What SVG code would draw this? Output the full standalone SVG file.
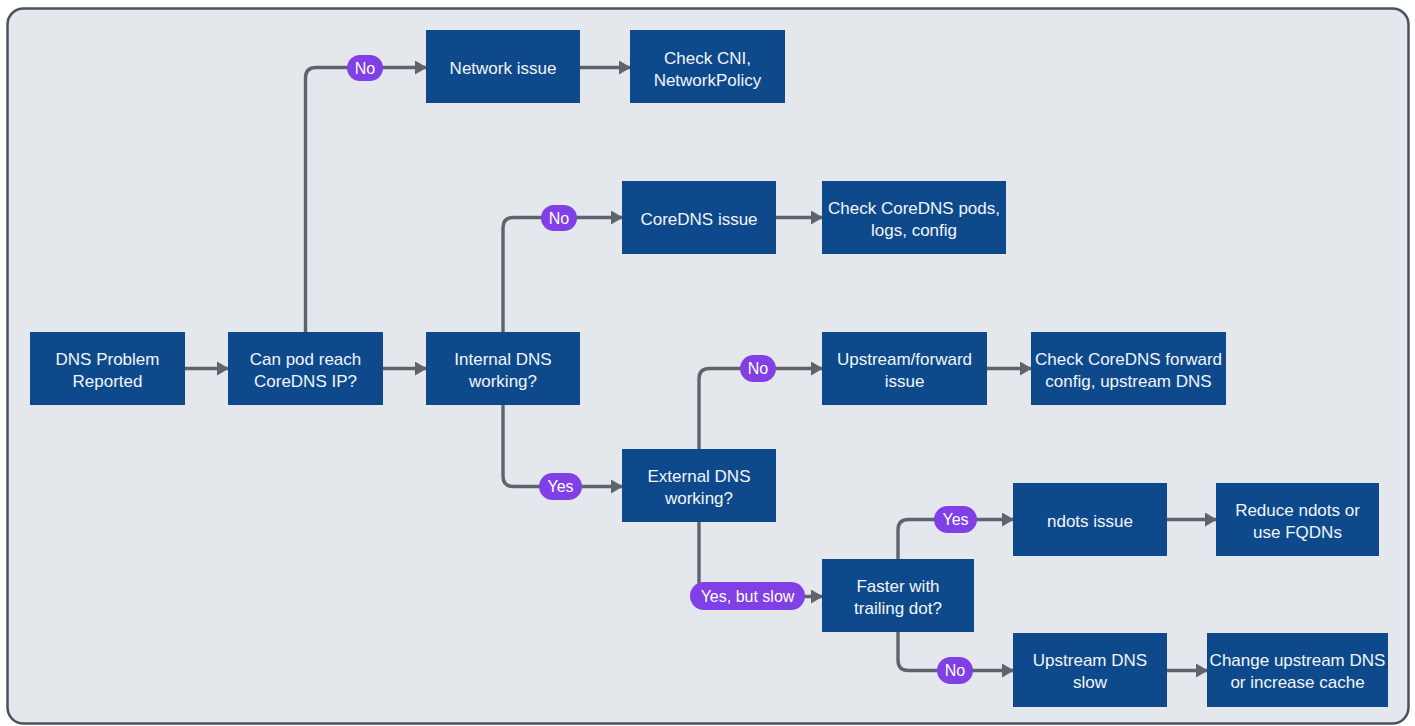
<svg xmlns="http://www.w3.org/2000/svg" width="1415" height="726" viewBox="0 0 1415 726">
  <defs>
    <marker id="arr" viewBox="0 0 12 14" markerWidth="12" markerHeight="14" refX="11" refY="7" orient="auto" markerUnits="userSpaceOnUse">
      <path d="M0,0 L12,7 L0,14 z" fill="#5f646c"/>
    </marker>
    <style>
      .node rect { fill: #0e4a8b; }
      .node text { fill: #f2f5f9; font-family: "Liberation Sans", Arial, sans-serif; font-size: 17px; text-anchor: middle; }
      .conn path { fill: none; stroke: #5f646c; stroke-width: 3.4; }
      .pill rect { fill: #8040e6; }
      .pill text { fill: #ffffff; font-family: "Liberation Sans", Arial, sans-serif; font-size: 16px; text-anchor: middle; }
    </style>
  </defs>
  <rect x="0" y="0" width="1415" height="726" fill="#ffffff"/>
  <rect x="7.5" y="8.5" width="1401" height="715" rx="16" ry="16" fill="#e4e7eb" stroke="#4a5260" stroke-width="2.5"/>

  <g id="connectors" class="conn">
    <path d="M185,368.5 H228" marker-end="url(#arr)"/>
    <path d="M383,368.5 H426" marker-end="url(#arr)"/>
    <path d="M305.5,332 V78 Q305.5,67.5 316,67.5 H426" marker-end="url(#arr)"/>
    <path d="M580,67.5 H630" marker-end="url(#arr)"/>
    <path d="M503,332 V228 Q503,217.5 513.5,217.5 H622" marker-end="url(#arr)"/>
    <path d="M776,217.5 H822" marker-end="url(#arr)"/>
    <path d="M503,405 V476 Q503,486.5 513.5,486.5 H622" marker-end="url(#arr)"/>
    <path d="M699,449 V379 Q699,368.5 709.5,368.5 H822" marker-end="url(#arr)"/>
    <path d="M987,368.5 H1031" marker-end="url(#arr)"/>
    <path d="M699,522 V586 Q699,596.5 709.5,596.5 H822" marker-end="url(#arr)"/>
    <path d="M898,559 V530 Q898,519.5 908.5,519.5 H1013" marker-end="url(#arr)"/>
    <path d="M898,632 V660 Q898,670.5 908.5,670.5 H1013" marker-end="url(#arr)"/>
    <path d="M1167,519.5 H1216" marker-end="url(#arr)"/>
    <path d="M1167,670.5 H1207" marker-end="url(#arr)"/>
  </g>

  <g id="labels">
    <g class="pill" id="label-no-1"><rect x="347" y="55" width="36" height="26" rx="13"/><text x="365" y="73.5">No</text></g>
    <g class="pill" id="label-no-2"><rect x="541" y="205" width="36" height="26" rx="13"/><text x="559" y="223.5">No</text></g>
    <g class="pill" id="label-yes-1"><rect x="539" y="473" width="43" height="27" rx="13.5"/><text x="560.5" y="492">Yes</text></g>
    <g class="pill" id="label-no-3"><rect x="740" y="355" width="36" height="27" rx="13.5"/><text x="758" y="374">No</text></g>
    <g class="pill" id="label-slow"><rect x="690" y="582" width="115" height="28" rx="14"/><text x="747.5" y="601.5">Yes, but slow</text></g>
    <g class="pill" id="label-yes-2"><rect x="934" y="506" width="43" height="27" rx="13.5"/><text x="955.5" y="525">Yes</text></g>
    <g class="pill" id="label-no-4"><rect x="937" y="657" width="36" height="27" rx="13.5"/><text x="955" y="676">No</text></g>
  </g>

  <g id="n-dns-problem" class="node"><rect x="30" y="332" width="155" height="73"/><text x="107.5" y="364.5">DNS Problem</text><text x="107.5" y="386.5">Reported</text></g>
  <g id="n-can-pod" class="node"><rect x="228" y="332" width="155" height="73"/><text x="305.5" y="364.5">Can pod reach</text><text x="305.5" y="386.5">CoreDNS IP?</text></g>
  <g id="n-network-issue" class="node"><rect x="426" y="30" width="154" height="73"/><text x="503" y="73.5">Network issue</text></g>
  <g id="n-check-cni" class="node"><rect x="630" y="30" width="155" height="73"/><text x="707.5" y="63.5">Check CNI,</text><text x="707.5" y="85.5">NetworkPolicy</text></g>
  <g id="n-internal-dns" class="node"><rect x="426" y="332" width="154" height="73"/><text x="503" y="364.5">Internal DNS</text><text x="503" y="386.5">working?</text></g>
  <g id="n-coredns-issue" class="node"><rect x="622" y="181" width="154" height="73"/><text x="699" y="224.5">CoreDNS issue</text></g>
  <g id="n-check-coredns" class="node"><rect x="822" y="181" width="184" height="73"/><text x="914" y="213.5">Check CoreDNS pods,</text><text x="914" y="235.5">logs, config</text></g>
  <g id="n-external-dns" class="node"><rect x="622" y="449" width="154" height="73"/><text x="699" y="481.5">External DNS</text><text x="699" y="503.5">working?</text></g>
  <g id="n-upstream-forward" class="node"><rect x="822" y="332" width="165" height="73"/><text x="904.5" y="364.5">Upstream/forward</text><text x="904.5" y="386.5">issue</text></g>
  <g id="n-check-forward" class="node"><rect x="1031" y="332" width="195" height="73"/><text x="1128.5" y="364.5">Check CoreDNS forward</text><text x="1128.5" y="386.5">config, upstream DNS</text></g>
  <g id="n-faster" class="node"><rect x="822" y="559" width="152" height="73"/><text x="898" y="591.5">Faster with</text><text x="898" y="613.5">trailing dot?</text></g>
  <g id="n-ndots" class="node"><rect x="1013" y="483" width="154" height="73"/><text x="1090" y="526.5">ndots issue</text></g>
  <g id="n-reduce-ndots" class="node"><rect x="1216" y="483" width="163" height="73"/><text x="1297.5" y="515.5">Reduce ndots or</text><text x="1297.5" y="537.5">use FQDNs</text></g>
  <g id="n-upstream-slow" class="node"><rect x="1013" y="633" width="154" height="74"/><text x="1090" y="665.5">Upstream DNS</text><text x="1090" y="687.5">slow</text></g>
  <g id="n-change-upstream" class="node"><rect x="1207" y="633" width="181" height="74"/><text x="1297.5" y="665.5">Change upstream DNS</text><text x="1297.5" y="687.5">or increase cache</text></g>
</svg>
